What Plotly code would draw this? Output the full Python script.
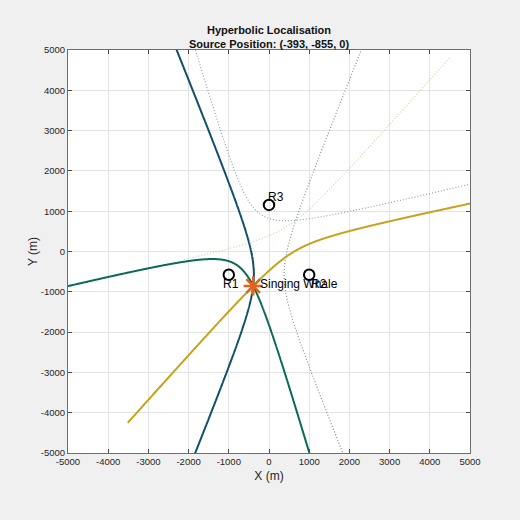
import numpy as np
import plotly.graph_objects as go

# ---- data ----
receiver_names = ["R1", "R2", "R3"]
receiver_x = [-1000, 1000, 0]
receiver_y = [-577, -577, 1155]
label_x = [-945, 1250, 174]
label_y = [-806, -806, 1352]
source_name = "Singing Whale"
source_x = [-393]
source_y = [-855]
pairs = [(0, 1), (0, 2), (1, 2)]
true_colors = ["#0f4f6c", "#0a6a55", "#c9a21c"]
mirror_colors = ["#7d8ea0", "#8ea3a3", "#d2d2a4"]
mirror_t_min = [-2.5, -2.5, -1.7]
t_max = 2.5
tick_values = list(range(-5000, 5001, 1000))
tick_labels = [str(v) for v in tick_values]

FONT = "Liberation Sans, Arial"

fig = go.Figure()

def branch(i, j, sign, t):
    p1 = np.array([receiver_x[i], receiver_y[i]], float)
    p2 = np.array([receiver_x[j], receiver_y[j]], float)
    s = np.array([source_x[0], source_y[0]], float)
    d1 = np.linalg.norm(s - p1)
    d2 = np.linalg.norm(s - p2)
    c = np.linalg.norm(p2 - p1) / 2
    a = abs(d2 - d1) / 2
    b = np.sqrt(c * c - a * a)
    cen = (p1 + p2) / 2
    near = p1 if d1 < d2 else p2
    u = (near - cen) / np.linalg.norm(near - cen)
    v = np.array([-u[1], u[0]])
    pts = cen[:, None] + sign * a * np.cosh(t)[None, :] * u[:, None] + b * np.sinh(t)[None, :] * v[:, None]
    return pts[0], pts[1]

for k, (i, j) in enumerate(pairs):
    t = np.linspace(mirror_t_min[k], t_max, 1500)
    x, y = branch(i, j, -1, t)
    fig.add_trace(go.Scatter(x=x, y=y, mode="lines",
                             line=dict(color=mirror_colors[k], width=1.2, dash="1px,2px", simplify=False),
                             showlegend=False, hoverinfo="skip"))

for k, (i, j) in enumerate(pairs):
    t = np.linspace(-t_max, t_max, 1500)
    x, y = branch(i, j, 1, t)
    fig.add_trace(go.Scatter(x=x, y=y, mode="lines",
                             line=dict(color=true_colors[k], width=2, simplify=False),
                             showlegend=False, hoverinfo="skip"))

fig.add_trace(go.Scatter(x=receiver_x, y=receiver_y, mode="markers",
                         marker=dict(symbol="circle-open", size=10.5, color="black",
                                     line=dict(width=2, color="black")),
                         showlegend=False))
fig.add_trace(go.Scatter(x=source_x, y=source_y, mode="markers",
                         marker=dict(symbol="asterisk-open", size=16, color="#e0651a",
                                     line=dict(width=2.5, color="#e0651a")),
                         showlegend=False))

for n, lx, ly in zip(receiver_names, label_x, label_y):
    fig.add_annotation(x=lx, y=ly, text=n, showarrow=False,
                       font=dict(size=12, color="black", family=FONT))
fig.add_annotation(x=-275, y=-806, text=source_name, showarrow=False, xanchor="left",
                   font=dict(size=12, color="black", family=FONT))

axis_common = dict(range=[-5000, 5000], tickvals=tick_values, ticktext=tick_labels,
                   showgrid=True, gridcolor="#e3e3e3", gridwidth=1,
                   showline=True, linecolor="#6e6e6e", linewidth=1, mirror="ticks",
                   ticks="inside", ticklen=4, tickcolor="#4a4a4a",
                   tickfont=dict(size=9.5, color="#262626", family=FONT),
                   zeroline=False)

fig.update_layout(
    width=520, height=520,
    paper_bgcolor="#f0f0f0", plot_bgcolor="white",
    margin=dict(l=68, r=50, t=50, b=67),
    title=dict(text="<b>Hyperbolic Localisation</b><br><b>Source Position: (-393, -855, 0)</b>",
               x=(68 + 470) / 2 / 520, xanchor="center", y=1 - 34 / 520, yanchor="middle",
               font=dict(size=11, color="#111111", family=FONT)),
    xaxis=dict(axis_common, title=dict(text="X (m)", standoff=5,
                                       font=dict(size=12, color="#262626", family=FONT))),
    yaxis=dict(axis_common, title=dict(text="Y (m)", standoff=0,
                                       font=dict(size=12, color="#262626", family=FONT))),
)

fig.write_html("out.html")
